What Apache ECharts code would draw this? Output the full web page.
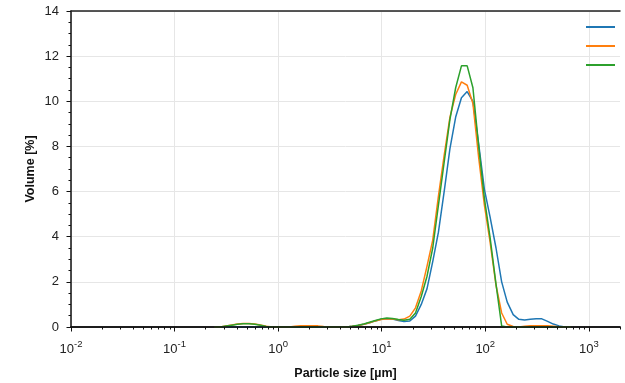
<!DOCTYPE html>
<html>
<head>
<meta charset="utf-8">
<script src="https://cdn.jsdelivr.net/npm/echarts@6/dist/echarts.min.js"></script>
<style>
  html, body { margin: 0; padding: 0; background: #fff; }
  #chart { width: 625px; height: 383px; }
</style>
</head>
<body>
<div id="chart"></div>
<script>
// size classes [µm]
const sizes = [0.243, 0.276, 0.314, 0.357, 0.405, 0.460, 0.523, 0.594, 0.675, 0.767, 0.872, 0.991,
  1.13, 1.28, 1.45, 1.65, 1.88, 2.13, 2.42, 2.75, 3.12, 3.55, 4.03, 4.58, 5.21, 5.92, 6.72, 7.64,
  8.68, 9.86, 11.2, 12.7, 14.5, 16.4, 18.7, 21.2, 24.1, 27.4, 31.1, 35.3, 40.1, 45.6, 51.8, 58.9,
  66.9, 76.0, 86.4, 98.1, 111, 127, 144, 163, 186, 211, 240, 272, 310, 352, 400, 454, 516, 586, 666];

// volume [%]
const blueVol = [0, 0, 0, 0, 0, 0, 0, 0, 0, 0, 0, 0,
  0, 0, 0, 0, 0, 0, 0, 0, 0, 0, 0, 0, 0.03, 0.07, 0.12, 0.19,
  0.27, 0.34, 0.37, 0.35, 0.29, 0.24, 0.27, 0.48, 1.0, 1.7, 2.9, 4.2, 6.0, 7.9, 9.3, 10.16,
  10.43, 10.0, 8.1, 6.1, 4.9, 3.5, 2.0, 1.1, 0.55, 0.34, 0.31, 0.34, 0.37, 0.36, 0.25, 0.13, 0.05, 0, 0];
const orangeVol = [0, 0, 0.05, 0.09, 0.13, 0.15, 0.15, 0.13, 0.09, 0.03, 0, 0,
  0, 0, 0.03, 0.05, 0.06, 0.06, 0.05, 0.02, 0, 0, 0, 0, 0.03, 0.07, 0.12, 0.19,
  0.27, 0.33, 0.36, 0.35, 0.32, 0.35, 0.48, 0.85, 1.6, 2.7, 3.85, 5.8, 7.6, 9.3, 10.3, 10.86,
  10.71, 9.9, 7.5, 5.4, 3.8, 1.85, 0.62, 0.12, 0.02, 0, 0.03, 0.05, 0.06, 0.06, 0.05, 0.03, 0.01, 0, 0];
const greenVol = [0, 0, 0.04, 0.08, 0.12, 0.14, 0.14, 0.12, 0.08, 0.02, 0, 0,
  0, 0, 0, 0, 0, 0, 0, 0, 0, 0, 0, 0, 0.03, 0.08, 0.13, 0.21,
  0.29, 0.36, 0.40, 0.38, 0.33, 0.30, 0.34, 0.62, 1.35, 2.25, 3.5, 5.4, 7.3, 9.2, 10.6, 11.57,
  11.57, 10.6, 8.0, 5.7, 4.0, 1.9, 0.05, 0, 0, 0, 0, 0, 0, 0, 0, 0, 0, 0, 0];

// x axis ticks
const xMajorTicks = [0.01, 0.1, 1, 10, 100, 1000];
const xTickExponents = ["-2", "-1", "0", "1", "2", "3"];
const xMinorTicks = [
  0.02, 0.03, 0.04, 0.05, 0.06, 0.07, 0.08, 0.09,
  0.2, 0.3, 0.4, 0.5, 0.6, 0.7, 0.8, 0.9,
  2, 3, 4, 5, 6, 7, 8, 9,
  20, 30, 40, 50, 60, 70, 80, 90,
  200, 300, 400, 500, 600, 700, 800, 900,
  2000];

const seriesNames = ["Sample 1", "Sample 2", "Sample 3"];
const seriesColors = ["#1f77b4", "#ff7f0e", "#2ca02c"];
const seriesValues = [blueVol, orangeVol, greenVol];

const FONT = "Liberation Sans";
const xMin = 0.01, xMax = 2000;

const chart = echarts.init(document.getElementById("chart"), null, { renderer: "canvas" });

chart.setOption({
  animation: false,
  backgroundColor: "#fff",
  textStyle: { fontFamily: FONT },
  grid: { left: 71, right: 5, top: 11, bottom: 56, outerBoundsMode: "none" },
  legend: {
    data: seriesNames,
    orient: "vertical",
    right: 5,
    top: 26,
    padding: 0,
    icon: "rect",
    itemWidth: 29,
    itemHeight: 2,
    itemGap: 17,
    formatter: () => "",
    textStyle: { fontSize: 1, lineHeight: 2 },
    selectedMode: false
  },
  xAxis: [
    {
      type: "log",
      logBase: 10,
      min: xMin,
      max: xMax,
      name: "Particle size [µm]",
      nameLocation: "middle",
      nameGap: 40,
      nameMoveOverlap: false,
      nameTextStyle: { color: "#111", fontSize: 12.5, fontWeight: "bold", fontFamily: FONT },
      axisLine: { onZero: false, lineStyle: { color: "#111", width: 1.5 } },
      axisTick: { inside: false, length: 4.5, customValues: xMajorTicks, lineStyle: { color: "#111", width: 1 } },
      axisLabel: {
        margin: 12,
        customValues: xMajorTicks,
        formatter: (v) => {
          const k = xMajorTicks.findIndex(t => Math.abs(t - v) / t < 1e-6);
          return k < 0 ? "" : "{b|10}{s|" + xTickExponents[k] + "}";
        },
        rich: {
          b: { fontSize: 13, color: "#222", fontFamily: FONT, verticalAlign: "bottom" },
          s: { fontSize: 9.5, color: "#222", fontFamily: FONT, verticalAlign: "top", padding: [0, 0, 7, 0] }
        }
      },
      splitLine: { show: true, lineStyle: { color: "#e6e6e6", width: 1 } }
    },
    {
      // bottom spine drawn above the curves, with log minor ticks
      type: "log", logBase: 10, min: xMin, max: xMax, position: "bottom", z: 10,
      axisLine: { onZero: false, lineStyle: { color: "#111", width: 1.5 } },
      axisTick: { show: true, length: 2.5, customValues: xMinorTicks, lineStyle: { color: "#111", width: 1 } },
      axisLabel: { show: false }, splitLine: { show: false }
    },
    {
      // top spine
      type: "log", logBase: 10, min: xMin, max: xMax, position: "top",
      axisLine: { onZero: false, lineStyle: { color: "#222", width: 1.5 } },
      axisTick: { show: false }, axisLabel: { show: false }, splitLine: { show: false }
    }
  ],
  yAxis: {
    type: "value",
    min: 0,
    max: 14,
    interval: 2,
    name: "Volume [%]",
    nameLocation: "middle",
    nameGap: 34,
    nameMoveOverlap: false,
    nameTextStyle: { color: "#111", fontSize: 12.5, fontWeight: "bold", fontFamily: FONT },
    axisLine: { show: true, onZero: false, lineStyle: { color: "#111", width: 1.5 } },
    axisTick: { show: true, length: 4.5, lineStyle: { color: "#111", width: 1 } },
    minorTick: { show: true, splitNumber: 4, length: 2.5, lineStyle: { color: "#111", width: 1 } },
    axisLabel: { color: "#222", fontSize: 13, margin: 12, fontFamily: FONT },
    splitLine: { show: true, lineStyle: { color: "#e6e6e6", width: 1 } }
  },
  series: seriesNames.map((name, i) => ({
    name,
    type: "line",
    xAxisIndex: 0,
    data: sizes.map((d, k) => [d, seriesValues[i][k]]),
    symbol: "none",
    smooth: false,
    lineStyle: { color: seriesColors[i], width: 1.5 },
    itemStyle: { color: seriesColors[i] },
    z: 2
  }))
});
</script>
</body>
</html>
